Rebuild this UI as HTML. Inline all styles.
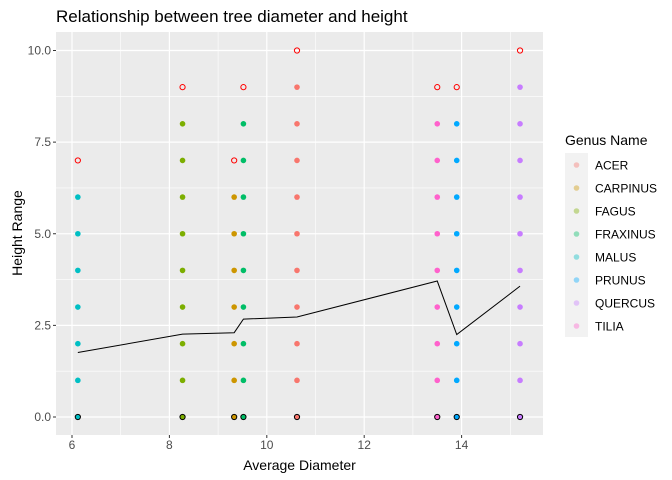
<!DOCTYPE html>
<html><head><meta charset="utf-8"><style>body{margin:0;background:#fff}svg{display:block;font-family:"Liberation Sans",Arial,sans-serif}</style></head>
<body>
<svg id="chart" width="672" height="480" viewBox="0 0 672 480"></svg>
<script>
const genera = ["ACER","CARPINUS","FAGUS","FRAXINUS","MALUS","PRUNUS","QUERCUS","TILIA"];
const colors = ["#F8766D","#CD9600","#7CAE00","#00BE67","#00BFC4","#00A9FF","#C77CFF","#FF61CC"];
const groupX = [10.62, 9.33, 8.27, 9.52, 6.12, 13.9, 15.2, 13.5];
const groupMaxH = [10, 7, 9, 9, 7, 9, 10, 9];
const lineX = [6.12, 8.27, 9.33, 9.52, 10.62, 13.5, 13.9, 15.2];
const lineY = [1.76, 2.26, 2.3, 2.67, 2.73, 3.71, 2.25, 3.57];
const xTicks = [6, 8, 10, 12, 14];
const xMinor = [7, 9, 11, 13, 15];
const yTicks = [0, 2.5, 5, 7.5, 10];
const yTickLabels = ["0.0","2.5","5.0","7.5","10.0"];
const yMinor = [1.25, 3.75, 6.25, 8.75];

const svg = document.getElementById('chart');
const NS = "http://www.w3.org/2000/svg";
const P = {l:56, r:543, t:32, b:435};
const xs = v => 72 + (v - 6) * 48.7;
const ys = v => 417 - v * 36.65;
function mk(tag, attrs, parent) { const e = document.createElementNS(NS, tag); for (const k in attrs) e.setAttribute(k, attrs[k]); (parent || svg).appendChild(e); return e; }

const title = mk('text', {x:56, y:22, 'font-size':17, fill:'#000'});


title.textContent = "Relationship between tree diameter and height";

const panel = mk('rect', {x:P.l, y:P.t, width:P.r-P.l, height:P.b-P.t, fill:'#EBEBEB'});



xMinor.forEach(v => { const g = mk('line', {x1:xs(v), x2:xs(v), y1:P.t, y2:P.b, stroke:'#fff', 'stroke-width':0.6});
  
   });
yMinor.forEach(v => { const g = mk('line', {x1:P.l, x2:P.r, y1:ys(v), y2:ys(v), stroke:'#fff', 'stroke-width':0.6});
  
   });
xTicks.forEach(v => {
  const g = mk('line', {x1:xs(v), x2:xs(v), y1:P.t, y2:P.b, stroke:'#fff', 'stroke-width':1.2});
  
  
  const tk = mk('line', {x1:xs(v), x2:xs(v), y1:P.b, y2:P.b+3, stroke:'#333', 'stroke-width':1});
  
  
  const t = mk('text', {x:xs(v), y:P.b+14, 'font-size':12, fill:'#4D4D4D', 'text-anchor':'middle'});
  
  
  t.textContent = v;
});
yTicks.forEach((v, i) => {
  const g = mk('line', {x1:P.l, x2:P.r, y1:ys(v), y2:ys(v), stroke:'#fff', 'stroke-width':1.2});
  
  
  const tk = mk('line', {x1:P.l-3, x2:P.l, y1:ys(v), y2:ys(v), stroke:'#333', 'stroke-width':1});
  
  
  const t = mk('text', {x:P.l-5, y:ys(v)+4, 'font-size':12, fill:'#4D4D4D', 'text-anchor':'end'});
  
  
  t.textContent = yTickLabels[i];
});

genera.forEach((g, gi) => {
  const cx = xs(groupX[gi]);
  for (let h = 0; h <= groupMaxH[gi]; h++) {
    let c;
    if (h === 0) c = mk('circle', {cx, cy:ys(h), r:2.6, fill:colors[gi], stroke:'#000', 'stroke-width':1});
    else if (h === groupMaxH[gi]) c = mk('circle', {cx, cy:ys(h), r:2.6, fill:'none', stroke:'#FF0000', 'stroke-width':1});
    else c = mk('circle', {cx, cy:ys(h), r:2.8, fill:colors[gi]});
    
    
  }
});

const pl = mk('polyline', {points: lineX.map((v,i)=>xs(v)+','+ys(lineY[i])).join(' '), fill:'none', stroke:'#000', 'stroke-width':1});



const xt = mk('text', {x:(P.l+P.r)/2, y:470, 'font-size':14, fill:'#000', 'text-anchor':'middle'});


xt.textContent = "Average Diameter";
const yt = mk('text', {x:0, y:0, 'font-size':14, fill:'#000', 'text-anchor':'middle', transform:'translate(22,233) rotate(-90)'});


yt.textContent = "Height Range";

const lt = mk('text', {x:565, y:145, 'font-size':14, fill:'#000'});


lt.textContent = "Genus Name";
const lb = mk('rect', {x:565, y:153, width:23, height:184, fill:'#F2F2F2'});


genera.forEach((g, i) => {
  const y = 165 + i * 23;
  const grp = mk('g', {});
  
  
  mk('circle', {cx:576.5, cy:y, r:2.8, fill:colors[i], 'fill-opacity':0.4}, grp);
  const t = mk('text', {x:595, y:y+4.5, 'font-size':12, fill:'#000'}, grp);
  t.textContent = g;
});
</script>
</body></html>
